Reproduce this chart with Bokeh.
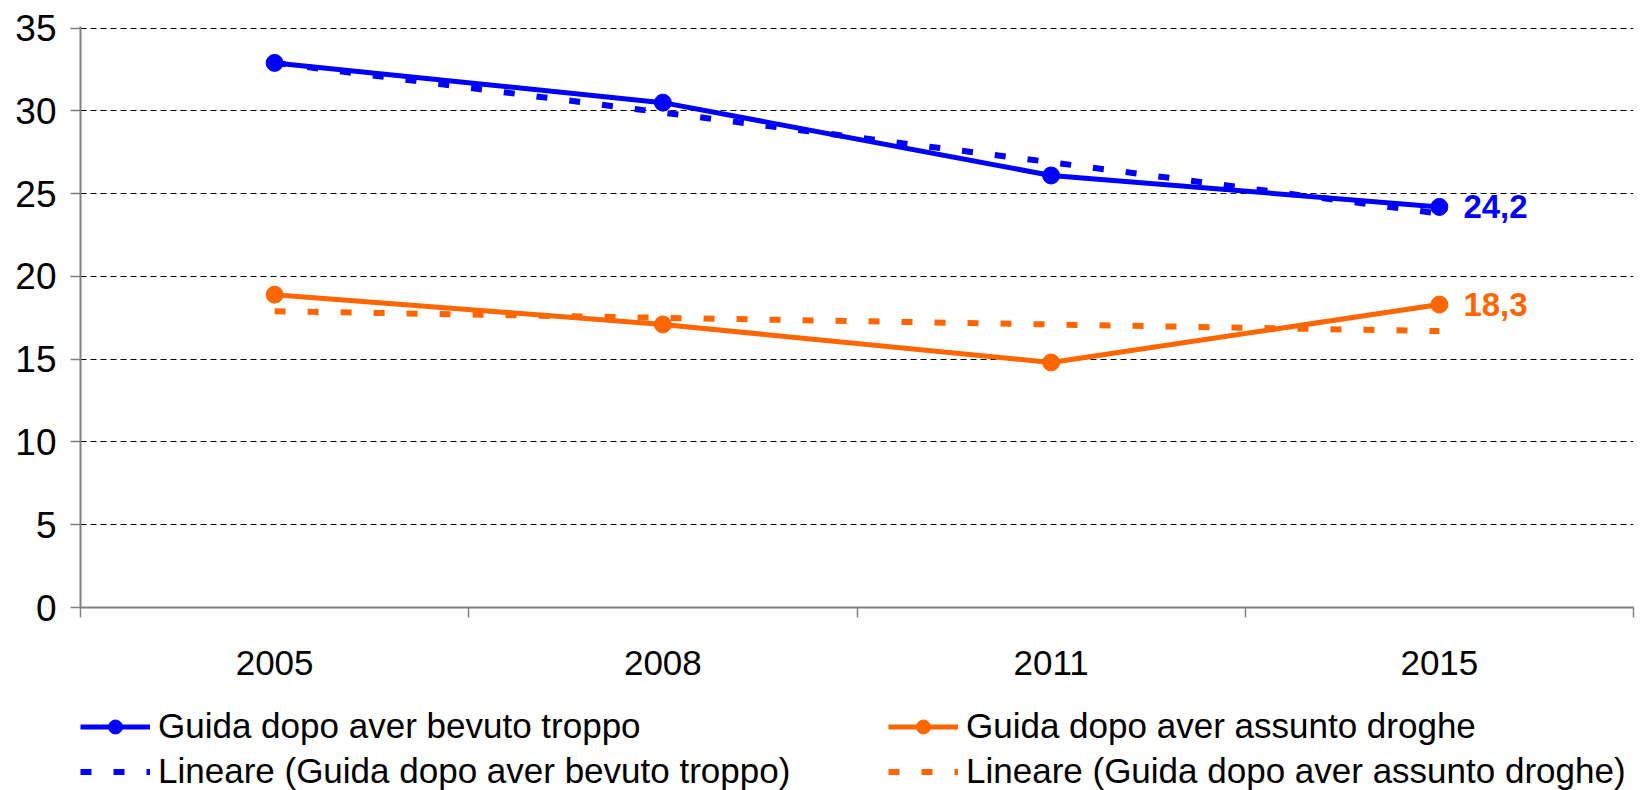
import numpy as np
from bokeh.plotting import figure
from bokeh.layouts import column
from bokeh.models import (Range1d, FixedTicker, Legend, LegendItem, ColumnDataSource)
from bokeh.core.properties import value
from bokeh.embed import file_html
from bokeh.resources import INLINE

years = ["2005", "2008", "2011", "2015"]
alcol = [32.9, 30.5, 26.1, 24.2]
droghe = [18.9, 17.1, 14.8, 18.3]
trend_alcol = [32.9, 29.9, 26.9, 23.8]
trend_droghe = [17.9, 17.5, 17.1, 16.7]
name_alcol = "Guida dopo aver bevuto troppo"
name_droghe = "Guida dopo aver assunto droghe"
yticks = [0, 5, 10, 15, 20, 25, 30, 35]

BLUE = "#0000FF"
ORANGE = "#FF6600"
FONT = "Liberation Sans"
W = 1639
LW = 5
TW = 6
TDASH = "11 22"
MS = 17

x = np.arange(len(years)) + 0.5

p = figure(width=W, height=700, output_backend="svg", toolbar_location=None,
           x_range=Range1d(0, len(years)), y_range=Range1d(0, 35.1),
           min_border_left=80, min_border_right=6, min_border_top=26,
           min_border_bottom=93)
p.outline_line_color = None
p.background_fill_color = "white"
p.border_fill_color = "white"

# x axis: labels at category centres, tick marks between categories
p.xaxis.ticker = FixedTicker(ticks=list(x), minor_ticks=list(range(len(years) + 1)))
p.xaxis.major_label_overrides = {float(xx): y for xx, y in zip(x, years)}
p.xaxis.major_tick_out = 0
p.xaxis.major_tick_in = 0
p.xaxis.minor_tick_out = 10
p.xaxis.minor_tick_in = 0
p.xaxis.minor_tick_line_color = "#808080"
p.xaxis.minor_tick_line_width = 1.5
p.xaxis.axis_line_color = "#808080"
p.xaxis.axis_line_width = 2
p.xaxis.major_label_text_font = FONT
p.xaxis.major_label_text_font_size = "35px"
p.xaxis.major_label_text_color = "black"
p.xaxis.major_label_standoff = 33

p.yaxis.ticker = FixedTicker(ticks=yticks)
p.yaxis.minor_tick_line_color = None
p.yaxis.major_tick_out = 10
p.yaxis.major_tick_in = 0
p.yaxis.major_tick_line_color = "#808080"
p.yaxis.major_tick_line_width = 1.5
p.yaxis.axis_line_color = "#808080"
p.yaxis.axis_line_width = 2
p.yaxis.major_label_text_font = FONT
p.yaxis.major_label_text_font_size = "37px"
p.yaxis.major_label_text_color = "black"
p.yaxis.major_label_standoff = 14

p.xgrid.grid_line_color = None
p.ygrid.grid_line_color = "black"
p.ygrid.grid_line_width = 1
p.ygrid.grid_line_dash = "6 4"

# trend lines
p.line(x, trend_alcol, line_color=BLUE, line_width=TW, line_dash=TDASH)
p.line(x, trend_droghe, line_color=ORANGE, line_width=TW, line_dash=TDASH)

# series
p.line(x, alcol, line_color=BLUE, line_width=LW)
p.scatter(x, alcol, size=MS, fill_color=BLUE, line_color=BLUE)
p.line(x, droghe, line_color=ORANGE, line_width=LW)
p.scatter(x, droghe, size=MS, fill_color=ORANGE, line_color=ORANGE)

# end labels
lab = ColumnDataSource(dict(
    x=[x[-1], x[-1]],
    y=[alcol[-1], droghe[-1]],
    t=[f"{alcol[-1]:.1f}".replace(".", ","), f"{droghe[-1]:.1f}".replace(".", ",")],
    c=[BLUE, ORANGE]))
p.text("x", "y", text="t", source=lab, text_color="c", x_offset=24, y_offset=0,
       text_font=value(FONT), text_font_style="bold", text_font_size="33px",
       text_baseline="middle", text_align="left")

# legend strip below the chart (series drawn out of view, only their legend glyphs show)
q = figure(width=W, height=90, output_backend="svg", toolbar_location=None,
           x_range=Range1d(0, len(years)), y_range=Range1d(100, 101),
           x_axis_type=None, y_axis_type=None,
           min_border_left=0, min_border_right=0, min_border_top=0,
           min_border_bottom=0)
q.outline_line_color = None
q.grid.grid_line_color = None
g1 = q.line(x, alcol, line_color=BLUE, line_width=LW)
s1 = q.scatter(x, alcol, size=MS, fill_color=BLUE, line_color=BLUE)
g2 = q.line(x, trend_alcol, line_color=BLUE, line_width=TW, line_dash=TDASH)
g3 = q.line(x, droghe, line_color=ORANGE, line_width=LW)
s3 = q.scatter(x, droghe, size=MS, fill_color=ORANGE, line_color=ORANGE)
g4 = q.line(x, trend_droghe, line_color=ORANGE, line_width=TW, line_dash=TDASH)

legend = Legend(items=[LegendItem(label=name_alcol, renderers=[g1, s1]),
                       LegendItem(label="Lineare (" + name_alcol + ")", renderers=[g2]),
                       LegendItem(label=name_droghe, renderers=[g3, s3]),
                       LegendItem(label="Lineare (" + name_droghe + ")", renderers=[g4])],
                ncols=2, orientation="vertical", location=(0, -1),
                label_text_font=FONT, label_text_font_size="35px",
                label_text_color="black", glyph_width=70, glyph_height=35,
                label_height=35, label_width=725, label_standoff=8, spacing=5,
                padding=0, margin=0, border_line_color=None,
                background_fill_alpha=0)
q.add_layout(legend, "center")

open("out.html", "w").write(file_html(column(p, q, spacing=0), INLINE))
